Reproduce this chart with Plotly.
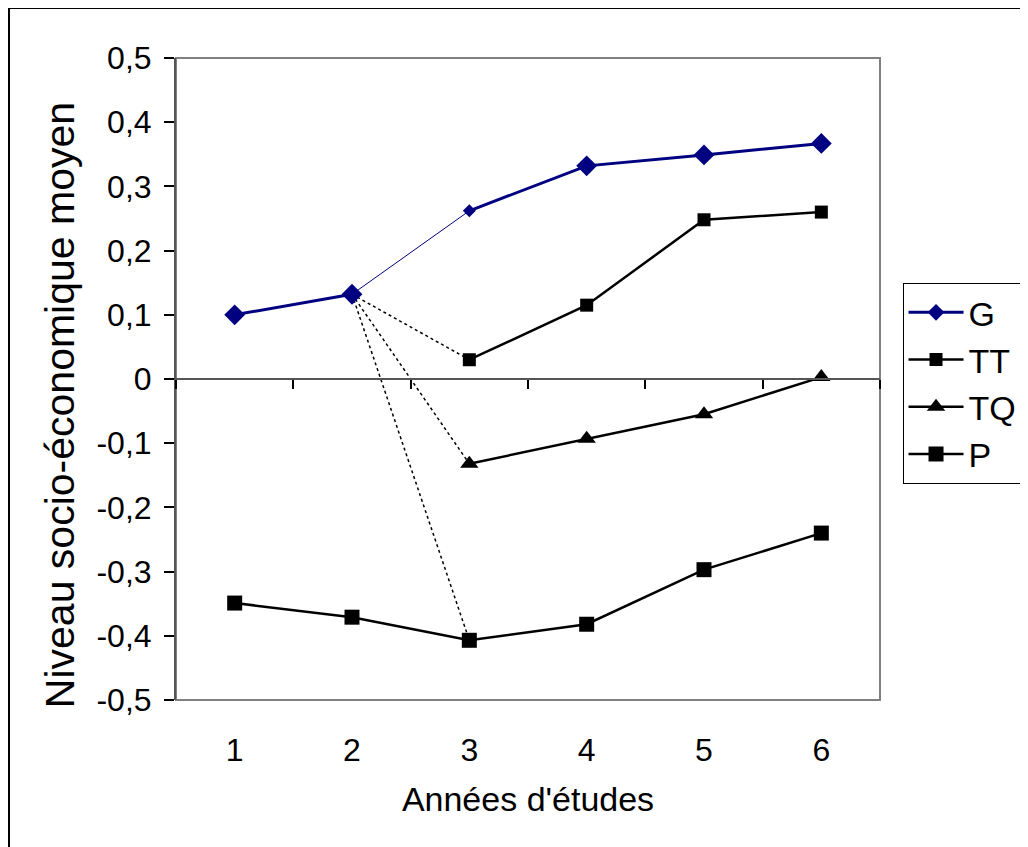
import plotly.graph_objects as go

years = [1, 2, 3, 4, 5, 6]
g_vals = [0.100, 0.132, 0.262, 0.332, 0.349, 0.367]
late_years = [3, 4, 5, 6]
tt_vals = [0.030, 0.115, 0.248, 0.260]
tq_vals = [-0.132, -0.093, -0.055, 0.003]
p_vals = [-0.349, -0.371, -0.407, -0.382, -0.297, -0.240]

y_tickvals = [0.5, 0.4, 0.3, 0.2, 0.1, 0.0, -0.1, -0.2, -0.3, -0.4, -0.5]
y_ticktext = ["0,5", "0,4", "0,3", "0,2", "0,1", "0", "-0,1", "-0,2", "-0,3", "-0,4", "-0,5"]
x_boundaries = [0.5, 1.5, 2.5, 3.5, 4.5, 5.5, 6.5]

FONT = "Liberation Sans, Arial, sans-serif"
NAVY = "#000080"

fig = go.Figure()

# dotted links from G (year 2) to the year-3 starting points of TT, TQ, P
for start in [tt_vals[0], tq_vals[0], p_vals[2]]:
    fig.add_trace(go.Scatter(
        x=[years[1], years[2]], y=[g_vals[1], start], mode="lines",
        line=dict(color="black", width=1.5, dash="dot"),
        showlegend=False, hoverinfo="skip"))

# thin G segment between year 2 and year 3
fig.add_trace(go.Scatter(
    x=years[1:3], y=g_vals[1:3], mode="lines",
    line=dict(color=NAVY, width=1), showlegend=False, hoverinfo="skip"))

g_x = years[:2] + [None] + years[2:]
g_y = g_vals[:2] + [None] + g_vals[2:]
g_sizes = [16, 16, 0, 10, 16, 16, 16]
fig.add_trace(go.Scatter(
    x=g_x, y=g_y, mode="lines+markers", name="G", legendgroup="G",
    line=dict(color=NAVY, width=3),
    marker=dict(symbol="diamond", size=g_sizes, color=NAVY, opacity=1,
                line=dict(width=0)),
    connectgaps=False))

fig.add_trace(go.Scatter(
    x=late_years, y=tt_vals, mode="lines+markers", name="TT", legendgroup="TT",
    line=dict(color="black", width=2.5),
    marker=dict(symbol="square", size=13, color="black")))

fig.add_trace(go.Scatter(
    x=late_years, y=tq_vals, mode="lines+markers", name="TQ", legendgroup="TQ",
    line=dict(color="black", width=2.5),
    marker=dict(symbol="triangle-up", size=16, color="black")))

fig.add_trace(go.Scatter(
    x=years, y=p_vals, mode="lines+markers", name="P", legendgroup="P",
    line=dict(color="black", width=2.5),
    marker=dict(symbol="square", size=15, color="black")))

# zero-line axis with category-boundary ticks
fig.add_trace(go.Scatter(x=[None], y=[None], xaxis="x2", showlegend=False, hoverinfo="skip"))

fig.update_layout(
    width=1028, height=847,
    margin=dict(l=168, r=156, t=50, b=155),
    paper_bgcolor="white", plot_bgcolor="white",
    font=dict(family=FONT, size=32, color="black"),
    xaxis=dict(
        range=[0.5, 6.5], tickvals=years, ticktext=[str(v) for v in years],
        ticks="", showgrid=False, zeroline=False, showline=False,
        ticklabelstandoff=28,
        title=dict(text="Années d'études", standoff=20, font=dict(size=34)),
    ),
    xaxis2=dict(
        range=[0.5, 6.5], overlaying="x", anchor="free", position=0.5,
        tickvals=x_boundaries, showticklabels=False, ticks="outside",
        ticklen=9, tickcolor="black", tickwidth=1.5,
        showline=True, linecolor="#555555", linewidth=1.5,
        showgrid=False, zeroline=False,
    ),
    yaxis=dict(
        range=[-0.5, 0.5], tickvals=y_tickvals, ticktext=y_ticktext,
        ticks="outside", ticklen=10, tickcolor="black", tickwidth=1.5,
        showline=True, linecolor="#555555", linewidth=2,
        showgrid=False, zeroline=False, ticklabelstandoff=6,
    ),
    annotations=[
        dict(text="Niveau socio-économique moyen", textangle=-90,
             xref="paper", yref="paper", x=-0.165, y=0.459,
             xanchor="center", yanchor="middle", showarrow=False,
             font=dict(size=41, family=FONT, color="black")),
    ],
    legend=dict(
        x=1.032, y=0.65, xanchor="left", yanchor="top",
        bordercolor="black", borderwidth=1, bgcolor="white",
        font=dict(size=34), tracegroupgap=0, itemwidth=55,
    ),
    shapes=[
        dict(type="rect", xref="paper", yref="paper", x0=0, x1=1, y0=0, y1=1,
             line=dict(color="#808080", width=2), layer="below"),
        dict(type="rect", xref="paper", yref="paper", x0=-0.2372, x1=1.4, y0=-0.4, y1=1.078,
             line=dict(color="black", width=2), layer="below"),
    ],
    showlegend=True,
)

fig.write_html("out.html")
